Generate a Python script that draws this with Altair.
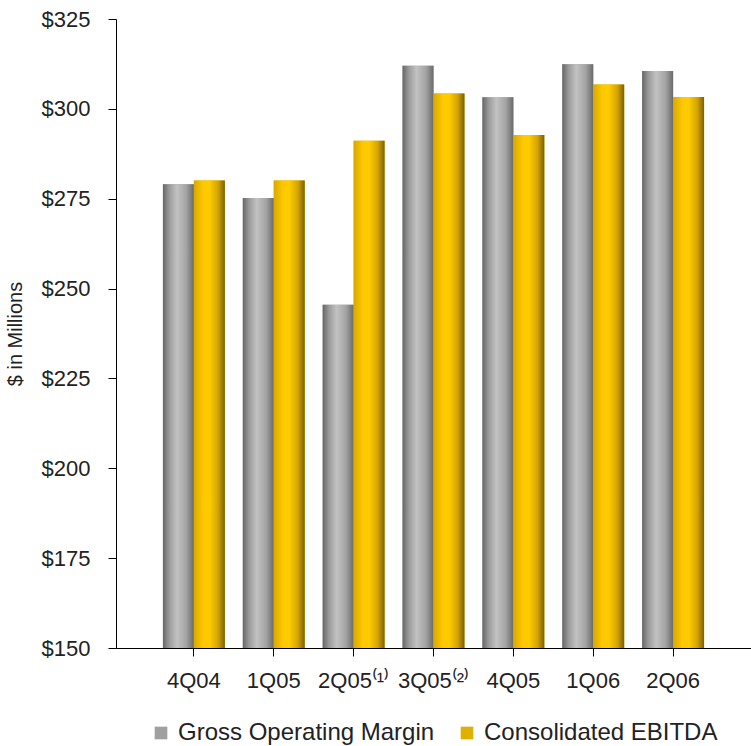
import altair as alt
import pandas as pd

quarters = ["4Q04", "1Q05", "2Q05\u207d\u00b9\u207e", "3Q05\u207d\u00b2\u207e", "4Q05", "1Q06", "2Q06"]
gross_operating_margin = [279.0, 275.2, 245.5, 312.0, 303.2, 312.4, 310.5]
consolidated_ebitda = [280.1, 280.1, 291.1, 304.3, 292.7, 306.8, 303.3]
series_names = ["Gross Operating Margin", "Consolidated EBITDA"]
y_ticks = [150, 175, 200, 225, 250, 275, 300, 325]

rows = []
for q, g, e in zip(quarters, gross_operating_margin, consolidated_ebitda):
    rows.append({"quarter": q, "series": series_names[0], "value": g})
    rows.append({"quarter": q, "series": series_names[1], "value": e})
df = pd.DataFrame(rows)

FONT = "Liberation Sans"
TXT = "#222222"

x_enc = alt.X("quarter:N", sort=quarters, title=None,
              scale=alt.Scale(paddingInner=0.225, paddingOuter=0.5875),
              axis=alt.Axis(labelAngle=0, labelFont=FONT, labelFontSize=22,
                            labelColor=TXT, labelPadding=14, tickSize=8,
                            tickColor="#000000", domainColor="#000000",
                            labelFlush=False, labelOverlap=False))
xoff_enc = alt.XOffset("series:N", sort=series_names,
                       scale=alt.Scale(domain=series_names, paddingInner=0, paddingOuter=0))
y_enc = alt.Y("value:Q", title="$ in Millions",
              scale=alt.Scale(domain=[150, 325], nice=False, zero=False),
              axis=alt.Axis(values=y_ticks, format="$,.0f", grid=False,
                            labelFont=FONT, labelFontSize=22, labelColor=TXT,
                            labelPadding=18, tickSize=8, tickColor="#000000",
                            domainColor="#000000", titleFont=FONT, titleFontSize=20,
                            titleFontWeight="normal", titleColor=TXT,
                            titlePadding=16))

base = alt.Chart(df)

flat = base.mark_bar(clip=True).encode(
    x=x_enc, xOffset=xoff_enc, y=y_enc,
    color=alt.Color("series:N", sort=series_names,
                    scale=alt.Scale(domain=series_names, range=["#a0a0a0", "#e0b000"]),
                    legend=alt.Legend(title=None, orient="none", direction="horizontal",
                                      legendX=33, legendY=702, symbolType="square",
                                      symbolSize=160, symbolStrokeWidth=0,
                                      labelFont=FONT, labelFontSize=24,
                                      labelColor=TXT, labelLimit=400,
                                      labelOffset=5, columnPadding=20))
)

gray_grad = alt.Gradient(
    gradient="linear", x1=0, x2=1, y1=0, y2=0,
    stops=[alt.GradientStop(color="#666666", offset=0),
           alt.GradientStop(color="#9a9a9a", offset=0.2),
           alt.GradientStop(color="#c2c2c2", offset=0.45),
           alt.GradientStop(color="#a4a4a4", offset=0.75),
           alt.GradientStop(color="#6a6a6a", offset=1)])
gold_grad = alt.Gradient(
    gradient="linear", x1=0, x2=1, y1=0, y2=0,
    stops=[alt.GradientStop(color="#d8a800", offset=0),
           alt.GradientStop(color="#ffc800", offset=0.3),
           alt.GradientStop(color="#ffcc00", offset=0.5),
           alt.GradientStop(color="#d4a400", offset=0.78),
           alt.GradientStop(color="#7a6000", offset=1)])

gray_bars = base.mark_bar(color=gray_grad, clip=True).encode(
    x=alt.X("quarter:N", sort=quarters), xOffset=xoff_enc, y="value:Q"
).transform_filter(alt.datum.series == series_names[0])

gold_bars = base.mark_bar(color=gold_grad, clip=True).encode(
    x=alt.X("quarter:N", sort=quarters), xOffset=xoff_enc, y="value:Q"
).transform_filter(alt.datum.series == series_names[1])

chart = alt.layer(flat, gray_bars, gold_bars).properties(
    width=635, height=629,
    padding={"left": 116, "top": 19, "right": 0, "bottom": 98},
    autosize=alt.AutoSizeParams(type="none"),
    background="#ffffff",
).configure_view(stroke=None)

chart.save("out.html", embed_options={"renderer": "svg", "actions": False})
